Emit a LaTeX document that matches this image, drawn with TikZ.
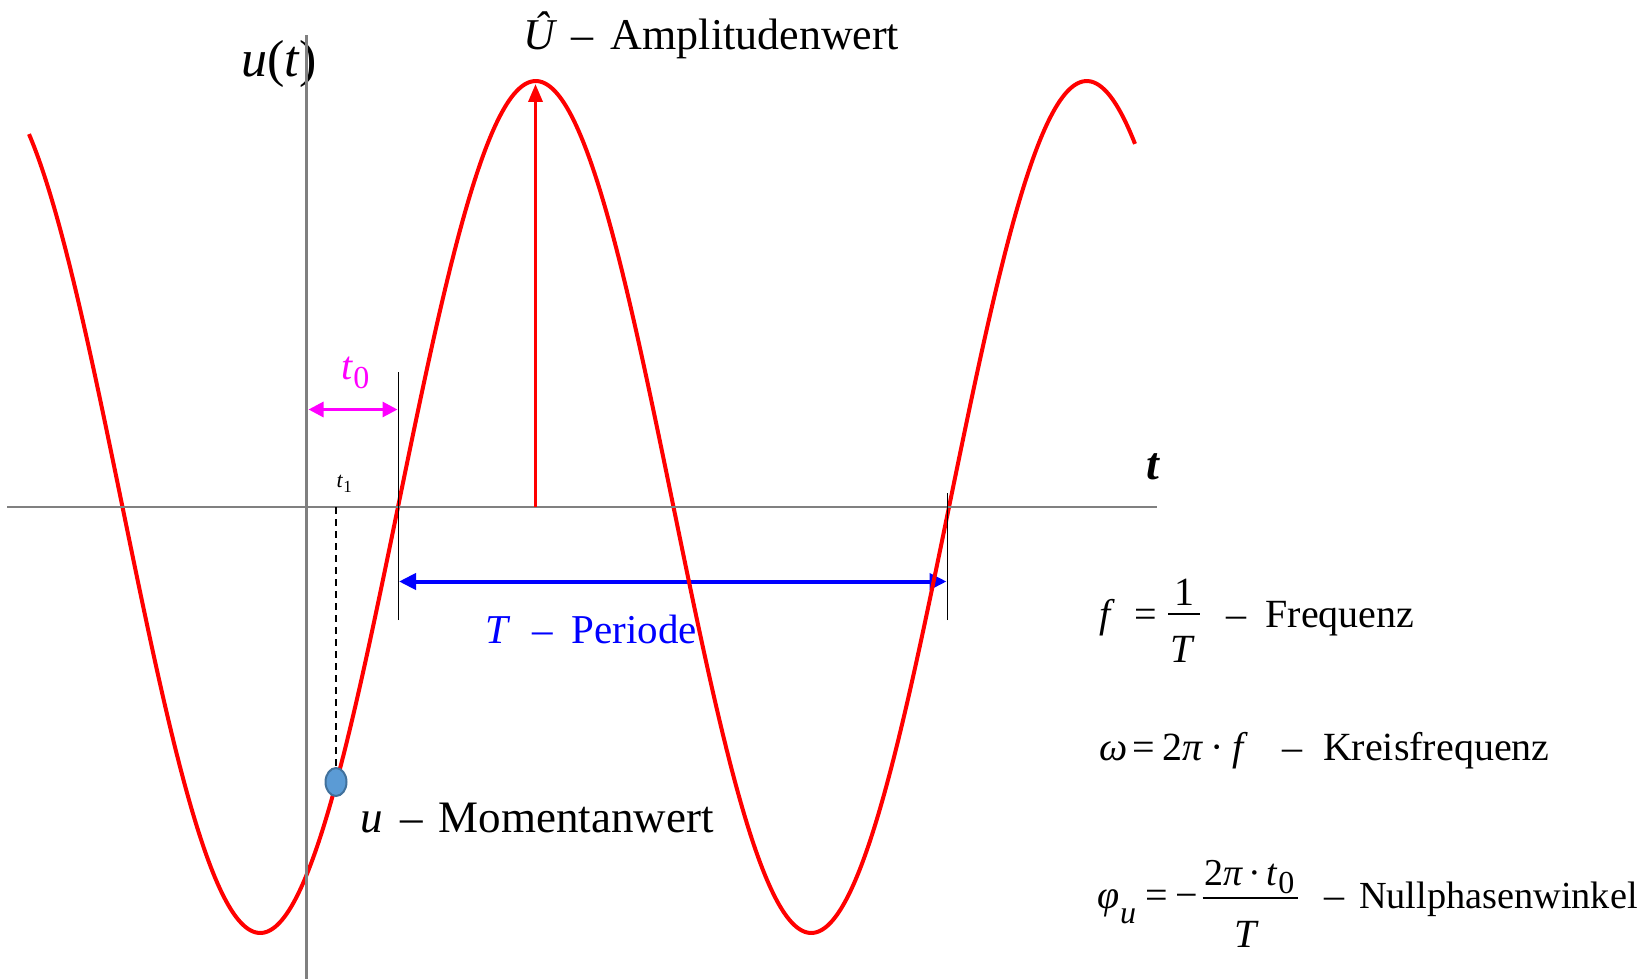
\RequirePackage{fix-cm}
\documentclass[tikz,border=0pt]{standalone}
\usepackage{fontspec}
\setmainfont{Liberation Serif}
\usetikzlibrary{arrows.meta,shapes.geometric}
\newcommand\fsz[1]{\fontsize{#1}{#1}\selectfont}
\definecolor{axisgray}{HTML}{808080}
\definecolor{dotfill}{HTML}{5B9BD5}
\definecolor{dotdraw}{HTML}{41719C}
\definecolor{pinkline}{RGB}{255,0,255}
\definecolor{pureblue}{RGB}{0,0,255}
\definecolor{purered}{RGB}{255,0,0}
\begin{document}
\begin{tikzpicture}[x=1pt,y=-1pt,
  axis/.style={draw=axisgray,line width=2.5pt},
  curve/.style={draw=purered,line width=4pt},
  marker/.style={draw=black,line width=1.5pt},
  fracbar/.style={draw=black,line width=2pt},
  lbl/.style={anchor=base west,inner sep=0pt,outer sep=0pt},
  clbl/.style={anchor=base,inner sep=0pt,outer sep=0pt},
]
\useasboundingbox (0,0) rectangle (1651,979);

% coordinates
\coordinate (xl) at (7,507);
\coordinate (xr) at (1157,507);
\coordinate (yb) at (306.5,979);
\coordinate (yt) at (306.5,35);
\coordinate (z1top) at (398.3,372);
\coordinate (z1bot) at (398.3,620);
\coordinate (z2top) at (947.3,493);
\coordinate (z2bot) at (947.3,620);
\coordinate (pL) at (308.5,409.5);
\coordinate (pR) at (397.5,409.5);
\coordinate (bL) at (399,581.5);
\coordinate (bR) at (946.5,581.5);
\coordinate (ampB) at (535.5,507);
\coordinate (ampT) at (535.5,84);
\coordinate (t1ax) at (336,507);
\coordinate (bar1L) at (1168.3,613.5);
\coordinate (bar1R) at (1200,613.5);
\coordinate (bar3L) at (1202.7,897.5);
\coordinate (bar3R) at (1298.3,897.5);

% blue period arrow
\draw[pureblue,line width=4pt,{Triangle[length=17pt,width=16pt]}-{Triangle[length=17pt,width=16pt]}] (bL) -- (bR);

% texts
\node[lbl,text=pureblue,font=\fsz{41}] (per) at (485,643) {\textit{T}\hspace{0.55em}–\hspace{0.45em}Periode};
\node[lbl,font=\fsz{45}] (mom) at (360,832) {\textit{u}\hspace{0.4em}–\hspace{0.35em}Momentanwert};
\node[lbl,font=\fsz{44}] (amp) at (523,50) {\textit{Û}\hspace{0.32em}–\hspace{0.4em}Amplitudenwert};
\node[lbl,font=\fsz{52}] (ut) at (241,77) {\textit{u}(\textit{t})};
\node[lbl,font=\fsz{46}\bfseries\itshape] (tax) at (1146,479) {t};
\node[lbl,text=pinkline,font=\fsz{40}] (tnull) at (341.5,379) {\textit{t}\raisebox{-9pt}{\fsz{32}0}};
\node[lbl,font=\fsz{22}] (tone) at (336.7,487) {\textit{t}\raisebox{-5pt}{\fsz{17}1}};

% formula 1: f = 1/T
\node[lbl,font=\fsz{40}] (ff) at (1099,627) {\textit{f}};
\node[lbl,font=\fsz{40}] (eq1) at (1134.5,627) {=};
\draw[fracbar] (bar1L) -- (bar1R);
\node[clbl,font=\fsz{40}] (num1) at (1184.5,605) {1};
\node[clbl,font=\fsz{40}] (den1) at (1182.5,662) {\textit{T}};
\node[lbl,font=\fsz{40}] (d1) at (1226,627) {–};
\node[lbl,font=\fsz{40}] (w1) at (1265.5,627) {Frequenz};

% formula 2: omega
\node[lbl,font=\fsz{40}] (f2) at (1099,760) {\textit{ω}\hspace{0.12em}=\hspace{0.2em}2\textit{π}\hspace{0.18em}·\hspace{0.2em}\textit{f}};
\node[lbl,font=\fsz{40}] (d2) at (1282,760) {–};
\node[lbl,font=\fsz{40}] (w2) at (1323,760) {Kreisfrequenz};

% formula 3: phi_u
\node[lbl,font=\fsz{40}] (phi) at (1097,908.5) {\textit{φ}};
\node[lbl,font=\fsz{32}] (phisub) at (1120,923) {\textit{u}};
\node[lbl,font=\fsz{40}] (eq3) at (1145.5,908.5) {=};
\node[lbl,font=\fsz{40}] (mi3) at (1175,908.5) {−};
\draw[fracbar] (bar3L) -- (bar3R);
\node[lbl,font=\fsz{38}] (num3) at (1204,885) {2\textit{π}\hspace{0.15em}·\hspace{0.15em}\textit{t}\raisebox{-8pt}{\fsz{32}0}};
\node[clbl,font=\fsz{40}] (den3) at (1247,947.3) {\textit{T}};
\node[lbl,font=\fsz{40}] (d3) at (1324,908.5) {–};
\node[lbl,font=\fsz{38.3}] (w3) at (1359,908.5) {Nullphasenwinkel};

% sine curve
\draw[curve] plot[domain=29:1135,samples=400,smooth] (\x,{507-426*sin(0.653358*(\x-398))});

% axes
\draw[axis] (xl) -- (xr);
\draw[axis] (yb) -- (yt);

% markers
\draw[marker] (z1bot) -- (z1top);
\draw[marker] (z2bot) -- (z2top);

% amplitude arrow
\draw[purered,line width=3.5pt,-{Triangle[length=18pt,width=14pt]}] (ampB) -- (ampT);

% t0 arrow
\draw[pinkline,line width=3pt,{Triangle[length=15pt,width=15pt]}-{Triangle[length=15pt,width=15pt]}] (pL) -- (pR);

% momentary value
\node[ellipse,minimum width=21pt,minimum height=28pt,inner sep=0pt,fill=dotfill,draw=dotdraw,line width=2pt] (dot) at (336,782) {};
\draw[black,line width=1.3pt,dash pattern=on 7pt off 5pt] (t1ax) -- (dot.north);
\end{tikzpicture}
\end{document}
